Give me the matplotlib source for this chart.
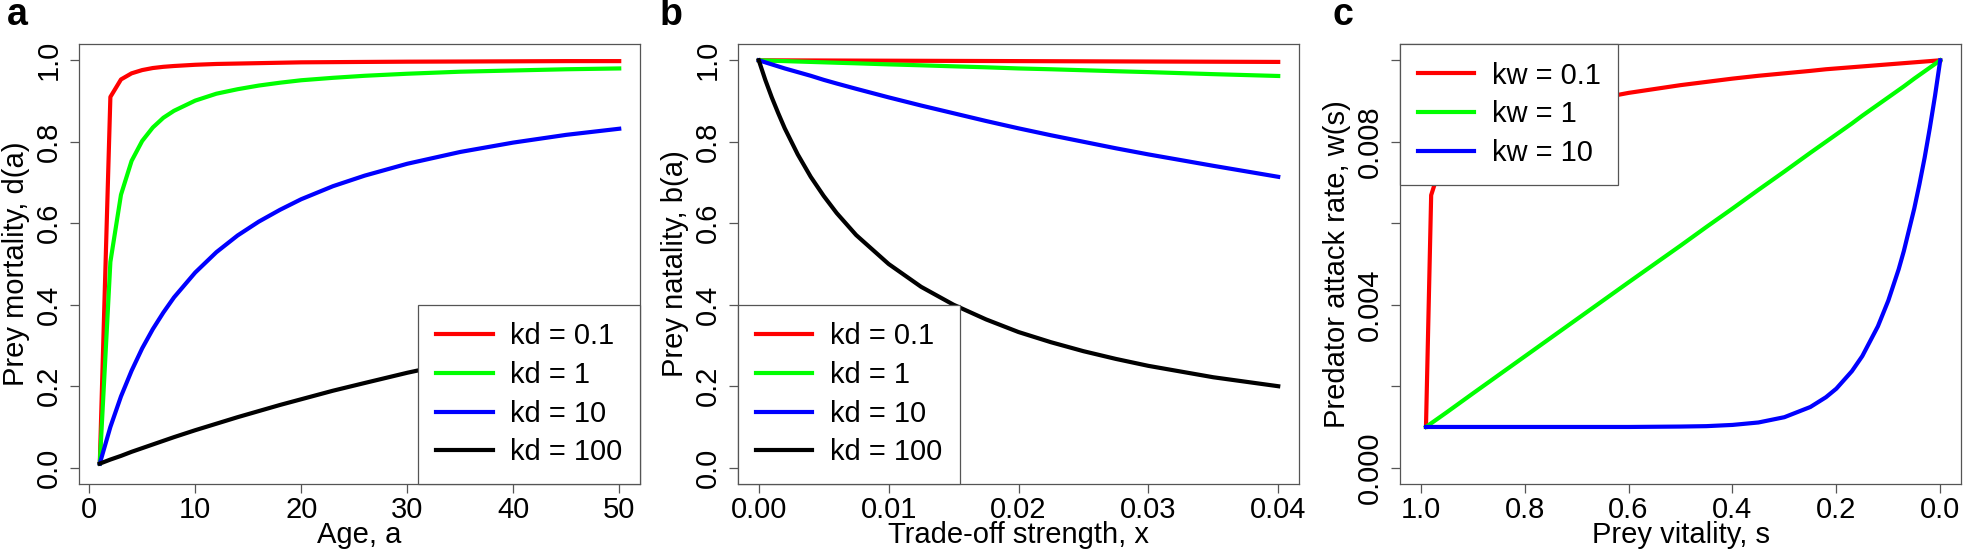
import matplotlib
matplotlib.use('Agg')
import matplotlib.pyplot as plt
import numpy as np

plt.rcParams['font.family'] = ['Liberation Sans', 'DejaVu Sans']

#######################################################################################################
# Data
#######################################################################################################

# panel a: prey mortality vs age
age = [1, 2, 3, 4, 5, 6, 7, 8, 10, 12, 14, 16, 18, 20, 23, 26, 30, 35, 40, 45, 50]
d_kd01 = [0.010, 0.910, 0.953, 0.968, 0.976, 0.981, 0.984, 0.986, 0.989, 0.991, 0.992,
          0.993, 0.994, 0.995, 0.9955, 0.996, 0.9966, 0.997, 0.9975, 0.998, 0.998]
d_kd1 = [0.010, 0.505, 0.670, 0.753, 0.802, 0.835, 0.859, 0.876, 0.901, 0.918, 0.929,
         0.938, 0.945, 0.951, 0.957, 0.962, 0.967, 0.972, 0.975, 0.978, 0.980]
d_kd10 = [0.010, 0.100, 0.175, 0.238, 0.293, 0.340, 0.381, 0.418, 0.479, 0.529, 0.570,
          0.604, 0.633, 0.659, 0.691, 0.717, 0.746, 0.775, 0.798, 0.817, 0.832]
d_kd100 = [0.010, 0.020, 0.029, 0.039, 0.048, 0.057, 0.066, 0.075, 0.092, 0.108, 0.124,
           0.139, 0.154, 0.168, 0.189, 0.208, 0.233, 0.261, 0.288, 0.313, 0.336]

# panel b: prey natality vs trade-off strength
x_trade = [0, 0.0005, 0.001, 0.0015, 0.002, 0.003, 0.004, 0.005, 0.006, 0.0075, 0.01,
           0.0125, 0.015, 0.0175, 0.02, 0.0225, 0.025, 0.0275, 0.03, 0.035, 0.04]
b_kd01 = [1, 0.99995, 0.9999, 0.99985, 0.9998, 0.9997, 0.9996, 0.9995, 0.9994, 0.99925,
          0.999, 0.99875, 0.9985, 0.99825, 0.998, 0.99775, 0.9975, 0.99725, 0.997, 0.9965, 0.996]
b_kd1 = [1, 0.9995, 0.999, 0.9985, 0.998, 0.997, 0.996, 0.995, 0.994, 0.9926,
         0.990, 0.9877, 0.9852, 0.9828, 0.980, 0.978, 0.9756, 0.9732, 0.971, 0.966, 0.9615]
b_kd10 = [1, 0.995, 0.990, 0.985, 0.980, 0.971, 0.962, 0.952, 0.943, 0.930,
          0.909, 0.889, 0.870, 0.851, 0.833, 0.816, 0.800, 0.784, 0.769, 0.741, 0.714]
b_kd100 = [1, 0.952, 0.909, 0.870, 0.833, 0.769, 0.714, 0.667, 0.625, 0.571,
           0.500, 0.444, 0.400, 0.364, 0.333, 0.308, 0.286, 0.267, 0.250, 0.222, 0.200]

# panel c: predator attack rate vs prey vitality
vitality = [0.99, 0.98, 0.97, 0.95, 0.9, 0.8, 0.7, 0.6, 0.5, 0.45, 0.4, 0.35, 0.3, 0.25,
            0.22, 0.2, 0.17, 0.15, 0.12, 0.1, 0.08, 0.07, 0.05, 0.04, 0.03, 0.02, 0.01, 0.0]
w_kw01 = [0.00100, 0.00669, 0.00709, 0.00753, 0.00808, 0.00863, 0.00896, 0.00920, 0.00939,
          0.00947, 0.00955, 0.00962, 0.00968, 0.00974, 0.00978, 0.00980, 0.00983, 0.00985,
          0.00988, 0.00990, 0.00992, 0.00993, 0.00995, 0.00996, 0.00997, 0.00998, 0.00999,
          0.01000]
w_kw1 = [0.00100, 0.00109, 0.00118, 0.00136, 0.00182, 0.00273, 0.00364, 0.00455, 0.00545,
         0.00591, 0.00636, 0.00682, 0.00727, 0.00773, 0.00800, 0.00818, 0.00845, 0.00864,
         0.00891, 0.00909, 0.00927, 0.00936, 0.00955, 0.00964, 0.00973, 0.00982, 0.00991,
         0.01000]
w_kw10 = [0.00100, 0.00100, 0.00100, 0.00100, 0.00100, 0.00100, 0.00100, 0.00100, 0.00101,
          0.00102, 0.00105, 0.00111, 0.00124, 0.00149, 0.00173, 0.00194, 0.00237, 0.00274,
          0.00347, 0.00410, 0.00487, 0.00532, 0.00636, 0.00696, 0.00761, 0.00834, 0.00913,
          0.01000]

kd_labels = ['kd = 0.1', 'kd = 1', 'kd = 10', 'kd = 100']
kw_labels = ['kw = 0.1', 'kw = 1', 'kw = 10']
colours = ['#FF0000', '#00FF00', '#0000FF', '#000000']

#######################################################################################################
# Plot
#######################################################################################################

FS = 21
GREY = '#555555'
LW = 3.0

fig = plt.figure(figsize=(19.63, 5.55), dpi=100)
W, H = 1963.0, 555.0

def make_axes(left_px):
    ax = fig.add_axes([left_px / W, 71 / H, 561 / W, 440 / H])
    for sp in ax.spines.values():
        sp.set_color(GREY)
        sp.set_linewidth(0.9)
    ax.tick_params(direction='out', length=6.5, width=0.9, color=GREY,
                   labelsize=FS, pad=2)
    ax.tick_params(axis='y', pad=5)
    return ax

def style_legend(leg):
    fr = leg.get_frame()
    fr.set_edgecolor(GREY)
    fr.set_linewidth(0.9)
    fr.set_boxstyle('square', pad=0)

def rot_yticks(ax):
    for lab in ax.get_yticklabels():
        lab.set_rotation(90)
        lab.set_va('center')

leg_kw = dict(fontsize=FS, fancybox=False, framealpha=1, borderaxespad=0,
              handlelength=1.95, handletextpad=0.6, borderpad=0.6, labelspacing=0.37)

# ---- panel a
ax1 = make_axes(79)
for y, c, lab in zip([d_kd01, d_kd1, d_kd10, d_kd100], colours, kd_labels):
    ax1.plot(age, y, color=c, lw=LW, label=lab, solid_joinstyle='round')
ax1.set_xlim(1 - 49 * 0.04, 50 + 49 * 0.04)
ax1.set_ylim(-0.04, 1.04)
ax1.set_xticks([0, 10, 20, 30, 40, 50])
ax1.set_yticks([0.0, 0.2, 0.4, 0.6, 0.8, 1.0])
ax1.set_yticklabels(['0.0', '0.2', '0.4', '0.6', '0.8', '1.0'])
rot_yticks(ax1)
ax1.set_xlabel('Age, a', fontsize=FS)
ax1.set_ylabel('Prey mortality, d(a)', fontsize=FS)
style_legend(ax1.legend(loc='lower right', **leg_kw))

# ---- panel b
ax2 = make_axes(738)
for y, c, lab in zip([b_kd01, b_kd1, b_kd10, b_kd100], colours, kd_labels):
    ax2.plot(x_trade, y, color=c, lw=LW, label=lab, solid_joinstyle='round')
ax2.set_xlim(-0.0016, 0.0416)
ax2.set_ylim(-0.04, 1.04)
ax2.set_xticks([0.00, 0.01, 0.02, 0.03, 0.04])
ax2.set_xticklabels(['0.00', '0.01', '0.02', '0.03', '0.04'])
ax2.set_yticks([0.0, 0.2, 0.4, 0.6, 0.8, 1.0])
ax2.set_yticklabels(['0.0', '0.2', '0.4', '0.6', '0.8', '1.0'])
rot_yticks(ax2)
ax2.set_xlabel('Trade-off strength, x', fontsize=FS)
ax2.set_ylabel('Prey natality, b(a)', fontsize=FS)
style_legend(ax2.legend(loc='lower left', **leg_kw))

# ---- panel c
ax3 = make_axes(1400)
for y, c, lab in zip([w_kw01, w_kw1, w_kw10], colours, kw_labels):
    ax3.plot(vitality, y, color=c, lw=LW, label=lab, solid_joinstyle='round')
ax3.set_xlim(1.04, -0.04)
ax3.set_ylim(-0.0004, 0.0104)
ax3.set_xticks([1.0, 0.8, 0.6, 0.4, 0.2, 0.0])
ax3.set_xticklabels(['1.0', '0.8', '0.6', '0.4', '0.2', '0.0'])
ax3.set_yticks([0.0, 0.002, 0.004, 0.006, 0.008, 0.010])
ax3.set_yticklabels(['0.000', '', '0.004', '', '0.008', ''])
rot_yticks(ax3)
ax3.set_xlabel('Prey vitality, s', fontsize=FS)
ax3.set_ylabel('Predator attack rate, w(s)', fontsize=FS)
style_legend(ax3.legend(loc='upper left', **leg_kw))

for ax in (ax1, ax2, ax3):
    ax.xaxis.set_label_coords(0.5, -0.085)
    ax.yaxis.set_label_coords(-0.088, 0.5)

for x_px, letter in [(7, 'a'), (660, 'b'), (1332, 'c')]:
    fig.text(x_px / W, 1 - 25 / H, letter, fontsize=27, fontweight='bold',
             ha='left', va='baseline')

fig.savefig('out.png', dpi=100)
